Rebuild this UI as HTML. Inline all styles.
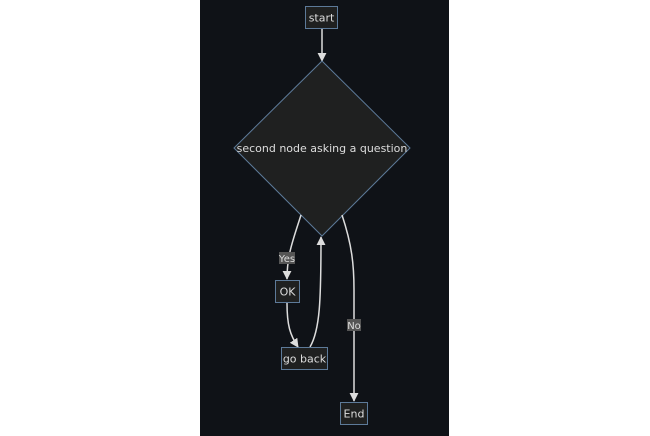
<!DOCTYPE html>
<html><head><style>
html,body{margin:0;padding:0;background:#fff;width:650px;height:436px;overflow:hidden}
text{font-family:"DejaVu Sans","Liberation Sans",sans-serif;font-size:11px;fill:#ddd}
</style></head><body>
<svg width="650" height="436" viewBox="0 0 650 436">
<defs><marker id="a" viewBox="0 0 10 10" refX="9" refY="5" markerWidth="9" markerHeight="9" orient="auto" markerUnits="userSpaceOnUse"><path d="M0,0L10,5L0,10z" fill="#ddd"/></marker></defs>
<rect x="200" y="0" width="249" height="436" fill="#0f1217"/>
<rect x="305.5" y="6.5" width="32" height="22" fill="#1f2020" stroke="#5d7a99"/>
<text x="321.5" y="21.5" text-anchor="middle">start</text>
<path d="M322,29V61" stroke="#ddd" stroke-width="1.5" fill="none" marker-end="url(#a)"/>
<polygon points="322,61 410,148 322,236 234,148" fill="#1f2020" stroke="#5d7a99"/>
<text x="322" y="152" text-anchor="middle">second node asking a question</text>
<path d="M301,215C293,240 287,255 287,279" stroke="#ddd" stroke-width="1.5" fill="none" marker-end="url(#a)"/>
<rect x="279" y="252" width="16" height="12" fill="#555"/>
<text x="287" y="262" text-anchor="middle" style="font-size:10px">Yes</text>
<rect x="275.5" y="280.5" width="24" height="22" fill="#1f2020" stroke="#5d7a99"/>
<text x="287.5" y="295.5" text-anchor="middle">OK</text>
<path d="M287,303C287,325 290,335 298,347" stroke="#ddd" stroke-width="1.5" fill="none" marker-end="url(#a)"/>
<path d="M310,347C320,330 321,300 321,237" stroke="#ddd" stroke-width="1.5" fill="none" marker-end="url(#a)"/>
<rect x="281.5" y="347.5" width="46" height="22" fill="#1f2020" stroke="#5d7a99"/>
<text x="304.5" y="362.5" text-anchor="middle">go back</text>
<path d="M342,215C352,245 354,265 354,290V401" stroke="#ddd" stroke-width="1.5" fill="none" marker-end="url(#a)"/>
<rect x="347" y="319" width="14" height="12" fill="#555"/>
<text x="354" y="329" text-anchor="middle" style="font-size:10px">No</text>
<rect x="340.5" y="402.5" width="27" height="22" fill="#1f2020" stroke="#5d7a99"/>
<text x="354" y="417.5" text-anchor="middle">End</text>
</svg>
</body></html>
